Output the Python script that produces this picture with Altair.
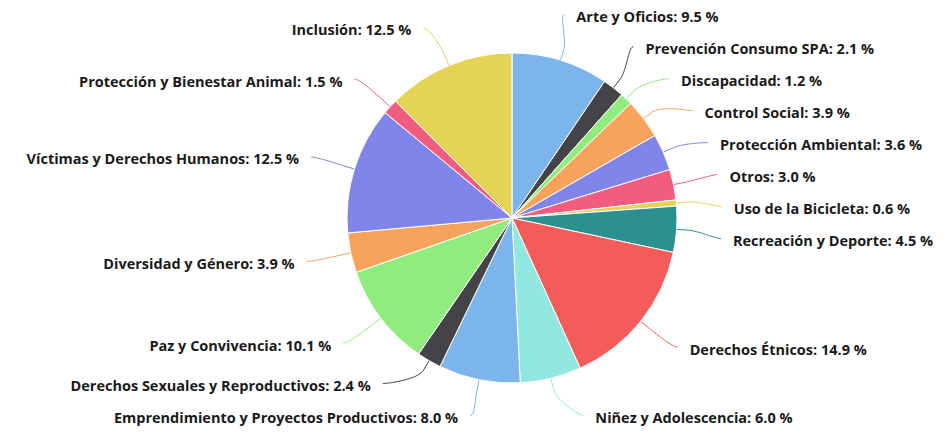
import math
import altair as alt
import pandas as pd

# ---------------- data ----------------
categories = [
    "Arte y Oficios", "Prevención Consumo SPA", "Discapacidad", "Control Social",
    "Protección Ambiental", "Otros", "Uso de la Bicicleta", "Recreación y Deporte",
    "Derechos Étnicos", "Niñez y Adolescencia", "Emprendimiento y Proyectos Productivos",
    "Derechos Sexuales y Reproductivos", "Paz y Convivencia", "Diversidad y Género",
    "Víctimas y Derechos Humanos", "Protección y Bienestar Animal", "Inclusión",
]
values = [9.5, 2.1, 1.2, 3.9, 3.6, 3.0, 0.6, 4.5, 14.9, 6.0, 8.0, 2.4, 10.1, 3.9, 12.5, 1.5, 12.5]
palette = ["#7cb5ec", "#434348", "#90ed7d", "#f7a35c", "#8085e9",
           "#f15c80", "#e4d354", "#2b908f", "#f45b5b", "#91e8e1"]

# ---------------- layout ----------------
W, H = 929, 420
CX, CY = 504, 210
R_PIE = 165
R_LABEL = 210      # circle on which label anchors sit
R_NAT = 206        # radius used for natural label heights
SLOT = 32
TOP = -9.5
BOTTOM = 423.5
CONN_OFF = 11
TEXT_GAP = 12
TEXT_DY = 3.5

colors = [palette[i % len(palette)] for i in range(len(categories))]
labels = [f"{c}: {v:.1f} %" for c, v in zip(categories, values)]
total = sum(values)

mids = []
cum = 0.0
for v in values:
    a0 = cum / total * 2 * math.pi
    cum += v
    a1 = cum / total * 2 * math.pi
    mids.append((a0 + a1) / 2)


def distribute(targets, size, lo, hi):
    boxes = [{"t": [t], "size": size, "pos": 0.0} for t in targets]
    overlapping = True
    while overlapping:
        for b in boxes:
            tgt = (min(b["t"]) + max(b["t"])) / 2
            b["pos"] = min(max(lo, tgt - b["size"] / 2), hi - b["size"])
        overlapping = False
        i = len(boxes) - 1
        while i > 0:
            if boxes[i - 1]["pos"] + boxes[i - 1]["size"] > boxes[i]["pos"] + 1e-9:
                boxes[i - 1]["size"] += boxes[i]["size"]
                boxes[i - 1]["t"] = boxes[i - 1]["t"] + boxes[i]["t"]
                boxes.pop(i)
                overlapping = True
            i -= 1
    out = []
    for b in boxes:
        for k in range(len(b["t"])):
            out.append(b["pos"] + size * (k + 0.5))
    return out


label_y = [0.0] * len(values)
extreme = set()
for right in (True, False):
    idx = [i for i, m in enumerate(mids) if (math.sin(m) >= 0) == right]
    nat = {i: CY - R_NAT * math.cos(mids[i]) for i in idx}
    idx.sort(key=lambda i: nat[i])
    ys = distribute([nat[i] for i in idx], SLOT, TOP, BOTTOM)
    for i, y in zip(idx, ys):
        label_y[i] = y
    if not right:
        extreme.add(idx[-1])

text_rows, line_rows = [], []
for i, m in enumerate(mids):
    sgn = 1 if math.sin(m) >= 0 else -1
    ay = label_y[i]
    if i in extreme:
        ax = CX + R_LABEL * math.sin(m)
    else:
        dy = max(-R_LABEL, min(R_LABEL, ay - CY))
        ax = CX + sgn * math.sqrt(R_LABEL ** 2 - dy ** 2)
    base = (CX + R_PIE * math.sin(m), CY - R_PIE * math.cos(m))
    brk = (CX + (R_PIE + CONN_OFF) * math.sin(m), CY - (R_PIE + CONN_OFF) * math.cos(m))
    p0 = (ax, ay)
    p1 = (ax - sgn * 5, ay)
    p2 = (2 * brk[0] - base[0], 2 * brk[1] - base[1])
    p3 = brk
    n = 20
    seq = 0
    for k in range(n + 1):
        t = k / n
        bx = ((1 - t) ** 3 * p0[0] + 3 * (1 - t) ** 2 * t * p1[0]
              + 3 * (1 - t) * t ** 2 * p2[0] + t ** 3 * p3[0])
        by = ((1 - t) ** 3 * p0[1] + 3 * (1 - t) ** 2 * t * p1[1]
              + 3 * (1 - t) * t ** 2 * p2[1] + t ** 3 * p3[1])
        line_rows.append({"name": categories[i], "seq": seq, "x": bx, "y": by})
        seq += 1
    line_rows.append({"name": categories[i], "seq": seq, "x": base[0], "y": base[1]})
    text_rows.append({"name": categories[i], "label": labels[i],
                      "x": ax + sgn * TEXT_GAP, "y": ay + TEXT_DY,
                      "side": "right" if sgn > 0 else "left"})

pie_df = pd.DataFrame({"name": categories, "value": values, "idx": list(range(len(values)))})
line_df = pd.DataFrame(line_rows)
text_df = pd.DataFrame(text_rows)

cscale = alt.Scale(domain=categories, range=colors)
xs = alt.Scale(domain=[0, W], range=[0, W], nice=False, zero=False)
ys = alt.Scale(domain=[0, H], range=[0, H], nice=False, zero=False)

pie = alt.Chart(pie_df).mark_arc(outerRadius=R_PIE, stroke="white", strokeWidth=1).encode(
    theta=alt.Theta("value:Q", stack=True),
    order=alt.Order("idx:Q"),
    color=alt.Color("name:N", scale=cscale, legend=None),
    x=alt.value(CX),
    y=alt.value(CY),
)

lines = alt.Chart(line_df).mark_line(strokeWidth=1).encode(
    x=alt.X("x:Q", scale=xs, axis=None),
    y=alt.Y("y:Q", scale=ys, axis=None),
    color=alt.Color("name:N", scale=cscale, legend=None),
    detail="name:N",
    order=alt.Order("seq:Q"),
)

txt_kw = dict(font="Open Sans", fontWeight="bold", fontSize=14.5, color="#1a1a1a", baseline="middle")
text_r = alt.Chart(text_df).transform_filter(alt.datum.side == "right").mark_text(align="left", **txt_kw).encode(
    x=alt.X("x:Q", scale=xs, axis=None),
    y=alt.Y("y:Q", scale=ys, axis=None),
    text="label:N",
)
text_l = alt.Chart(text_df).transform_filter(alt.datum.side == "left").mark_text(align="right", **txt_kw).encode(
    x=alt.X("x:Q", scale=xs, axis=None),
    y=alt.Y("y:Q", scale=ys, axis=None),
    text="label:N",
)

chart = alt.layer(lines, pie, text_r, text_l).properties(
    width=W, height=H, padding=0, autosize="none", background="white"
).configure_view(stroke=None)

chart.save("out.html", embed_options={"renderer": "svg", "actions": False})
